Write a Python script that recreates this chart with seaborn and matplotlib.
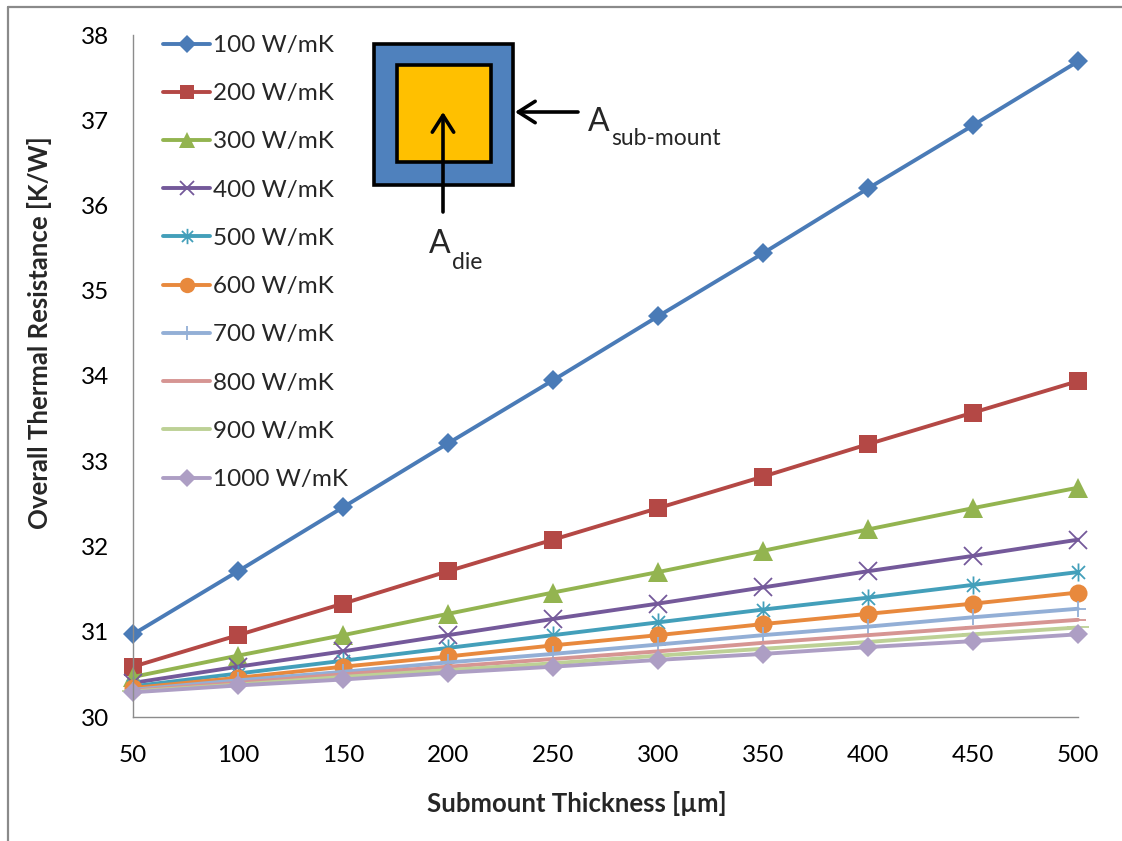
import matplotlib
matplotlib.use("Agg")
import matplotlib.pyplot as plt
from matplotlib.path import Path
from matplotlib.patches import Rectangle, FancyArrowPatch
from matplotlib.lines import Line2D
import seaborn as sns

# Submount thickness (x) and overall thermal resistance (K/W) per submount conductivity
thickness_um = [50, 100, 150, 200, 250, 300, 350, 400, 450, 500]

r_100 = [30.97, 31.71, 32.46, 33.21, 33.95, 34.70, 35.44, 36.20, 36.94, 37.69]
r_200 = [30.59, 30.96, 31.33, 31.71, 32.08, 32.45, 32.82, 33.20, 33.57, 33.94]
r_300 = [30.47, 30.72, 30.96, 31.21, 31.46, 31.70, 31.95, 32.20, 32.45, 32.69]
r_400 = [30.40, 30.59, 30.77, 30.96, 31.15, 31.33, 31.52, 31.71, 31.89, 32.08]
r_500 = [30.36, 30.51, 30.66, 30.81, 30.96, 31.11, 31.26, 31.40, 31.55, 31.70]
r_600 = [30.34, 30.46, 30.59, 30.71, 30.84, 30.96, 31.09, 31.21, 31.33, 31.46]
r_700 = [30.32, 30.43, 30.53, 30.64, 30.74, 30.85, 30.96, 31.06, 31.17, 31.27]
r_800 = [30.31, 30.40, 30.50, 30.59, 30.68, 30.77, 30.87, 30.96, 31.05, 31.14]
r_900 = [30.30, 30.38, 30.47, 30.55, 30.63, 30.72, 30.80, 30.88, 30.97, 31.05]
r_1000 = [30.29, 30.37, 30.44, 30.52, 30.59, 30.67, 30.74, 30.82, 30.89, 30.97]

series_labels = ["100 W/mK", "200 W/mK", "300 W/mK", "400 W/mK", "500 W/mK",
                 "600 W/mK", "700 W/mK", "800 W/mK", "900 W/mK", "1000 W/mK"]
series_values = [r_100, r_200, r_300, r_400, r_500,
                 r_600, r_700, r_800, r_900, r_1000]

y_ticks = [30, 31, 32, 33, 34, 35, 36, 37, 38]

# Office-style palette and marker sequence
colors = ["#4A7BB7", "#B44845", "#93B450", "#74599A", "#439FBA",
          "#E8893D", "#93AFD6", "#D69593", "#BDD196", "#AD9EC4"]

asterisk = Path(
    [(0, -1), (0, 1), (-0.72, -0.72), (0.72, 0.72), (-0.72, 0.72), (0.72, -0.72)],
    [Path.MOVETO, Path.LINETO, Path.MOVETO, Path.LINETO, Path.MOVETO, Path.LINETO],
)
markers = ["D", "s", "^", "x", asterisk, "o", "+", "_", "_", "D"]
marker_sizes = [10.5, 12.5, 14, 12.5, 13, 13, 12, 11, 16, 10.5]

W, H = 1122, 841


def fx(x):
    return x / W


def fy(y):
    return 1 - y / H


sns.set_theme(style="white")
plt.rcParams["font.family"] = ["Lato", "DejaVu Sans"]

fig = plt.figure(figsize=(W / 100, H / 100), dpi=100)
ax = fig.add_axes([fx(133), fy(717), (1078 - 133) / W, (717 - 35) / H])

for vals, lab, col, mk, ms in zip(series_values, series_labels, colors, markers, marker_sizes):
    line_art = mk in ("x", "+", "_") or mk is asterisk
    sns.lineplot(
        x=thickness_um, y=vals, ax=ax, label=lab, color=col,
        marker=mk, markersize=ms, linewidth=2.8,
        markeredgewidth=1.3 if line_art else 0.0,
        markeredgecolor=col, markerfacecolor=col,
        clip_on=False, legend=False,
    )

ax.set_xlim(50, 500)
ax.set_ylim(30, 38)
ax.set_xticks(thickness_um)
ax.set_xticklabels([str(t) for t in thickness_um])
ax.set_yticks(y_ticks)
ax.set_yticklabels([str(t) for t in y_ticks])

axis_gray = "#8C8C8C"
for side in ("top", "right"):
    ax.spines[side].set_visible(False)
for side in ("left", "bottom"):
    ax.spines[side].set_color(axis_gray)
    ax.spines[side].set_linewidth(1.0)

ax.tick_params(axis="both", direction="out", length=6.5, width=1.0,
               color=axis_gray, labelsize=17.5, labelcolor="black")
ax.tick_params(axis="x", pad=13.5)
ax.tick_params(axis="y", pad=11)

ax.set_xlabel("Submount Thickness [µm]", fontsize=18.5, fontweight="bold")
ax.set_ylabel("Overall Thermal Resistance [K/W]", fontsize=18.5, fontweight="bold")
ax.xaxis.set_label_coords(fx(577), fy(803), transform=fig.transFigure)
ax.yaxis.set_label_coords(fx(40), fy(333), transform=fig.transFigure)
ax.xaxis.label.set_va("center")
ax.yaxis.label.set_va("center")

handles, labels = ax.get_legend_handles_labels()
ax.legend(handles, labels, loc="upper left",
          bbox_to_anchor=(fx(163), fy(35)), bbox_transform=fig.transFigure,
          frameon=False, fontsize=17.5, handlelength=1.95, handletextpad=0.1,
          labelspacing=1.12, borderpad=0, borderaxespad=0, markerscale=0.85)

# Die / sub-mount sketch
fig.add_artist(Rectangle((fx(374), fy(185)), (513 - 374) / W, (185 - 44) / H,
                         transform=fig.transFigure, facecolor="#4F81BD",
                         edgecolor="black", linewidth=2.6, zorder=5))
fig.add_artist(Rectangle((fx(397), fy(162)), (491 - 397) / W, (162 - 65) / H,
                         transform=fig.transFigure, facecolor="#FFC000",
                         edgecolor="black", linewidth=2.6, zorder=6))
arrow_style = "->,head_length=0.55,head_width=0.35"
fig.add_artist(FancyArrowPatch((fx(443), fy(212)), (fx(443), fy(112)),
                               transform=fig.transFigure, arrowstyle=arrow_style,
                               mutation_scale=22, linewidth=2.6, color="black",
                               shrinkA=0, shrinkB=0, zorder=7))
fig.add_artist(FancyArrowPatch((fx(578), fy(112)), (fx(515), fy(112)),
                               transform=fig.transFigure, arrowstyle=arrow_style,
                               mutation_scale=22, linewidth=2.6, color="black",
                               shrinkA=0, shrinkB=0, zorder=7))

# Area labels: a large "A" followed by a lowered, smaller subscript
a_die = fig.text(fx(429), fy(253), "A", fontsize=23, va="baseline", ha="left")
ax.annotate("die", xy=(1, 0), xycoords=a_die, xytext=(1, -7),
            textcoords="offset points", fontsize=16.5, va="baseline", ha="left",
            annotation_clip=False)
a_sub = fig.text(fx(588), fy(131), "A", fontsize=23, va="baseline", ha="left")
ax.annotate("sub-mount", xy=(1, 0), xycoords=a_sub, xytext=(1, -6),
            textcoords="offset points", fontsize=16.5, va="baseline", ha="left",
            annotation_clip=False)

# Chart-area border (top and left edges)
border_gray = "#8A8A8A"
fig.add_artist(Line2D([fx(8), 1.0], [fy(7), fy(7)], transform=fig.transFigure,
                      color=border_gray, linewidth=1.6))
fig.add_artist(Line2D([fx(8), fx(8)], [fy(7), 0.0], transform=fig.transFigure,
                      color=border_gray, linewidth=1.6))

fig.savefig("out.png", dpi=100, facecolor="white")
